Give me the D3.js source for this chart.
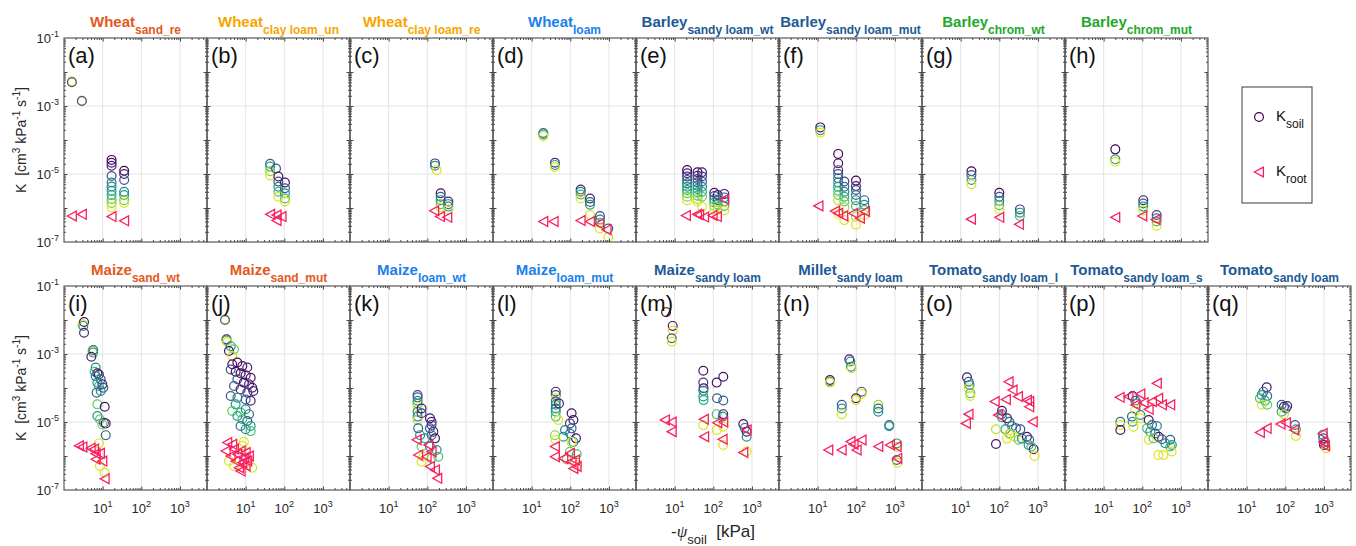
<!DOCTYPE html>
<html>
<head>
<meta charset="utf-8">
<script src="https://cdn.jsdelivr.net/npm/d3@7"></script>
<style>
  body { margin: 0; background: #fff; }
  svg { display: block; font-family: Arial, "Liberation Sans", Helvetica, sans-serif; }
  text { white-space: pre; }
</style>
</head>
<body>
<div id="chart"></div>
<script>
// 面板标题
const crops = ['Wheat', 'Wheat', 'Wheat', 'Wheat', 'Barley', 'Barley', 'Barley', 'Barley',
  'Maize', 'Maize', 'Maize', 'Maize', 'Maize', 'Millet', 'Tomato', 'Tomato', 'Tomato'];
const soilTypes = ['sand_re', 'clay loam_un', 'clay loam_re', 'loam', 'sandy loam_wt', 'sandy loam_mut',
  'chrom_wt', 'chrom_mut', 'sand_wt', 'sand_mut', 'loam_wt', 'loam_mut', 'sandy loam', 'sandy loam',
  'sandy loam_l', 'sandy loam_s', 'sandy loam'];
const panelLetters = 'abcdefghijklmnopq'.split('');

// 刻度
const xTickValues = [10, 100, 1000];
const xTickExp = ['1', '2', '3'];
const yTickValues = [1e-1, 1e-3, 1e-5, 1e-7];
const yTickExp = ['-1', '-3', '-5', '-7'];
const legendSubs = ['soil', 'root'];

// 数据: K_soil [psi kPa, K, 颜色位置0-1]; K_root [psi kPa, K]
const soilA = [[1.6, 5.3e-3, 0.95], [1.6, 5.0e-3, 0.25], [2.9, 1.45e-3, 0.95], [2.9, 1.4e-3, 0.25],
  [17, 2.6e-5, 0], [17, 2.15e-5, 0.05], [17, 1.75e-5, 0.1], [17, 8.7e-6, 0.25], [17, 5.6e-6, 0.4], [17, 4.3e-6, 0.45],
  [17, 3.2e-6, 0.5], [17, 2.4e-6, 0.6], [17, 1.8e-6, 0.7], [17, 1.4e-6, 0.8], [17, 1.05e-6, 0.95],
  [36, 1.25e-5, 0], [36, 1.0e-5, 0.1], [36, 6.7e-6, 0.25], [36, 3.0e-6, 0.45], [36, 2.4e-6, 0.55], [36, 1.7e-6, 0.75], [36, 1.4e-6, 0.95]];
const rootA = [[1.6, 5.8e-7], [2.9, 6.5e-7], [17, 5.6e-7], [36, 4.2e-7]];

const soilB = [[43, 2.0e-5, 0.3], [43, 1.65e-5, 0.6], [43, 1.2e-5, 0.8], [43, 9.0e-6, 0.95], [61, 1.45e-5, 0.25],
  [70, 8.4e-6, 0.05], [70, 6.0e-6, 0.25], [70, 4.2e-6, 0.45], [70, 3.0e-6, 0.7], [70, 2.15e-6, 0.95],
  [104, 5.6e-6, 0.05], [104, 3.8e-6, 0.25], [104, 2.7e-6, 0.5], [104, 1.9e-6, 0.7], [104, 1.55e-6, 0.95]];
const rootB = [[43, 6.5e-7], [63, 6.2e-7], [63, 4.3e-7], [85, 5.6e-7]];

const soilC = [[158, 2.05e-5, 0.15], [158, 1.75e-5, 0.5], [174, 1.3e-5, 0.95],
  [221, 2.7e-6, 0.05], [221, 2.15e-6, 0.3], [221, 1.7e-6, 0.5], [221, 1.3e-6, 0.7], [221, 1.05e-6, 0.95],
  [349, 1.55e-6, 0.1], [349, 1.3e-6, 0.35], [349, 1.1e-6, 0.55], [349, 9.1e-7, 0.95]];
const rootC = [[151, 8.3e-7], [213, 5.6e-7], [329, 5.3e-7]];

const soilD = [[20, 1.6e-4, 0.3], [20, 1.45e-4, 0.6], [20, 1.3e-4, 0.95], [40, 2.15e-5, 0.1], [40, 1.85e-5, 0.55], [40, 1.6e-5, 0.95],
  [185, 3.5e-6, 0.1], [185, 3.0e-6, 0.4], [185, 2.5e-6, 0.65], [185, 1.9e-6, 0.95],
  [323, 1.9e-6, 0.1], [323, 1.5e-6, 0.3], [323, 1.25e-6, 0.5], [323, 6.2e-7, 0.95],
  [585, 5.8e-7, 0.2], [585, 4.6e-7, 0.45], [585, 3.7e-7, 0.7], [585, 2.5e-7, 0.95], [960, 2.5e-7, 0.3], [960, 1.4e-7, 0.95]];
const rootD = [[20, 4.0e-7], [37, 4.0e-7], [185, 4.3e-7], [323, 4.0e-7], [560, 3.4e-7], [870, 2.3e-7]];

const soilE = [[21, 1.31e-5, 0], [21, 1.05e-5, 0.1], [21, 8.4e-6, 0.2], [21, 6.7e-6, 0.3], [21, 5.3e-6, 0.4],
  [21, 4.2e-6, 0.5], [21, 3.4e-6, 0.6], [21, 2.7e-6, 0.7], [21, 2.15e-6, 0.8], [21, 1.7e-6, 0.95],
  [39, 1.12e-5, 0], [39, 8.9e-6, 0.1], [39, 7.1e-6, 0.2], [39, 5.7e-6, 0.3], [39, 4.5e-6, 0.4],
  [39, 3.6e-6, 0.5], [39, 2.9e-6, 0.6], [39, 2.3e-6, 0.7], [39, 1.85e-6, 0.85], [39, 1.55e-6, 0.95],
  [51, 1.12e-5, 0.05], [51, 8.4e-6, 0.15], [51, 6.0e-6, 0.3], [51, 4.2e-6, 0.45], [51, 3.0e-6, 0.6], [51, 2.15e-6, 0.75], [51, 1.1e-6, 0.95],
  [106, 2.8e-6, 0.05], [106, 2.25e-6, 0.25], [106, 1.8e-6, 0.45], [106, 1.45e-6, 0.65], [106, 1.15e-6, 0.8], [106, 9.1e-7, 0.95],
  [130, 2.4e-6, 0.1], [130, 1.7e-6, 0.4], [130, 1.25e-6, 0.7], [130, 8.7e-7, 0.95],
  [192, 2.6e-6, 0.05], [192, 2.05e-6, 0.3], [192, 1.55e-6, 0.5], [192, 1.15e-6, 0.7], [192, 8.4e-7, 0.95]];
const rootE = [[19.6, 6.0e-7], [38, 6.5e-7], [43, 6.3e-7], [58, 5.4e-7], [96, 6.0e-7], [124, 5.6e-7], [192, 1.8e-6]];

const soilF = [[11.7, 2.35e-4, 0], [11.7, 1.95e-4, 0.5], [11.7, 1.65e-4, 0.95],
  [34, 3.9e-5, 0], [34, 2.06e-5, 0.05], [34, 1.3e-5, 0.15], [34, 1.0e-5, 0.25], [34, 7.5e-6, 0.35], [34, 5.6e-6, 0.45],
  [34, 4.2e-6, 0.55], [34, 3.2e-6, 0.65], [34, 2.4e-6, 0.75], [34, 1.7e-6, 0.9], [34, 6.7e-7, 1],
  [49, 6.0e-6, 0.2], [49, 4.2e-6, 0.35], [49, 3.0e-6, 0.5], [49, 2.15e-6, 0.65], [49, 1.55e-6, 0.75], [49, 1.05e-6, 0.85], [49, 4.4e-7, 0.95],
  [98, 6.4e-6, 0], [98, 4.4e-6, 0.1], [98, 3.4e-6, 0.2], [98, 2.4e-6, 0.35], [98, 1.7e-6, 0.5], [98, 1.15e-6, 0.7], [98, 5.6e-7, 0.85], [98, 3.2e-7, 0.95],
  [161, 1.7e-6, 0.3], [161, 1.25e-6, 0.5], [161, 8.7e-7, 0.7], [161, 6.2e-7, 0.95]];
const rootF = [[10.5, 1.15e-6], [28, 8.1e-7], [34, 7.0e-7], [46, 5.8e-7], [84, 7.0e-7], [124, 5.0e-7], [168, 7.9e-7]];

const soilG = [[19, 1.2e-5, 0], [19, 9.3e-6, 0.25], [19, 6.7e-6, 0.55], [19, 5.0e-6, 0.95],
  [100, 2.8e-6, 0], [100, 2.15e-6, 0.25], [100, 1.6e-6, 0.45], [100, 1.2e-6, 0.7], [100, 9.1e-7, 0.95],
  [340, 9.1e-7, 0.2], [340, 7.3e-7, 0.45], [340, 5.8e-7, 0.7]];
const rootG = [[18.5, 4.7e-7], [100, 5.3e-7], [323, 3.3e-7]];

const soilH = [[20, 5.3e-5, 0], [20, 2.7e-5, 0.5], [20, 2.3e-5, 0.95],
  [106, 1.7e-6, 0.05], [106, 1.35e-6, 0.35], [106, 1.1e-6, 0.6], [106, 8.4e-7, 0.95],
  [235, 6.2e-7, 0.2], [235, 5.0e-7, 0.45], [235, 4.0e-7, 0.7], [235, 3.0e-7, 0.95]];
const rootH = [[20, 5.3e-7], [100, 5.8e-7], [221, 4.6e-7]];

const soilI = [[2.98, 7.5e-3, 0.95], [3.3, 8.7e-3, 0.05], [3.15, 6.7e-3, 0.5], [3.3, 4.2e-3, 0.1],
  [5.4, 1.22e-3, 0.95], [5.7, 1.31e-3, 0.3], [5.7, 1.1e-3, 0.6], [5.1, 8.3e-4, 0.1],
  [6.6, 4.0e-4, 0.5], [6.2, 3.0e-4, 0.7], [7.3, 2.7e-4, 0.05], [8.0, 2.5e-4, 0.1], [6.6, 2.24e-4, 0.45],
  [8.9, 1.8e-4, 0.3], [7.3, 1.44e-4, 0.5], [9.8, 1.28e-4, 0.1], [8.0, 1.15e-4, 0.65], [10.4, 1.02e-4, 0.3],
  [8.9, 8.2e-5, 0.45], [7.0, 7.3e-5, 0.3], [7.3, 3.3e-5, 0.75], [11.3, 2.8e-5, 0.05], [7.3, 1.5e-5, 0.5],
  [8.5, 1.2e-5, 0.75], [10.8, 9.5e-6, 0.3], [12, 9.1e-6, 0.05], [9.8, 8.5e-6, 0.8], [12, 4.1e-6, 0.3],
  [8.0, 2.35e-6, 0.95], [8.5, 5.1e-7, 0.95], [11.3, 3.2e-7, 0.95]];
const rootI = [[2.44, 2.0e-6], [3.0, 1.85e-6], [4.9, 1.7e-6], [6.0, 1.6e-6], [6.6, 1.17e-6], [8.5, 1.2e-6],
  [6.6, 8.0e-7], [9.8, 7.1e-7], [11.3, 2.15e-7]];

const soilJ = [[2.92, 1.05e-2, 0.95], [2.92, 1.0e-2, 0.3], [3.2, 2.7e-3, 0.05], [3.2, 2.5e-3, 0.7], [3.35, 2.25e-3, 0.95],
  [4.1, 1.7e-3, 0.5], [5.0, 1.37e-3, 0.75], [3.7, 1.23e-3, 0.05], [4.5, 8.7e-4, 0.95],
  [4.5, 5.0e-4, 0.05], [6.1, 5.6e-4, 0], [8.2, 4.4e-4, 0.05], [11, 4.0e-4, 0.1], [4.1, 3.5e-4, 0.25],
  [5.5, 3.0e-4, 0.05], [7.4, 2.7e-4, 0], [10, 2.36e-4, 0.1], [13.5, 2.0e-4, 0.05], [6.1, 1.8e-4, 0.3],
  [9.0, 1.44e-4, 0], [12.2, 1.28e-4, 0.15], [14.8, 1.02e-4, 0.05], [5.0, 1.15e-4, 0.3], [7.4, 9.1e-5, 0.1],
  [11, 7.3e-5, 0.2], [15.8, 8.2e-5, 0.1], [4.1, 5.8e-5, 0.3], [6.1, 5.2e-5, 0.45], [10, 4.6e-5, 0.3],
  [13.5, 4.2e-5, 0.1], [5.5, 3.3e-5, 0.5], [4.5, 2.1e-5, 0.75], [7.4, 1.9e-5, 0.7], [10, 2.36e-5, 0.5],
  [12.2, 1.7e-5, 0.35], [6.1, 1.5e-5, 0.55], [8.2, 1.2e-5, 0.7], [11, 1.07e-5, 0.3], [13.5, 7.6e-6, 0.55],
  [7.4, 7.6e-6, 0.35], [10, 6.1e-6, 0.5], [13.5, 5.4e-6, 0.7], [9.0, 2.6e-6, 0.95], [8.2, 2.0e-6, 0.95],
  [3.7, 7.1e-7, 0.95], [14.8, 4.5e-7, 0.95], [5.0, 5.1e-7, 0.95]];
const rootJ = [[3.35, 2.5e-6], [4.5, 2.2e-6], [3.05, 1.4e-6], [5.0, 1.6e-6], [7.4, 1.4e-6], [10, 1.26e-6],
  [4.1, 1.0e-6], [6.1, 1.12e-6], [9.0, 8.9e-7], [12.2, 1.0e-6], [5.5, 7.1e-7], [8.2, 6.4e-7], [11, 7.1e-7],
  [6.7, 4.5e-7], [10, 5.1e-7], [7.4, 3.6e-7]];

const soilK = [[56, 6.2e-5, 0.2], [56, 5.3e-5, 0.3], [56, 4.2e-5, 0.45], [56, 3.5e-5, 0.6], [56, 2.8e-5, 0.95],
  [56, 2.0e-5, 0.55], [56, 1.44e-5, 0.45], [56, 1.15e-5, 0.9], [71, 2.5e-5, 0.05], [71, 1.8e-5, 0.2],
  [117, 1.28e-5, 0.05], [129, 1.02e-5, 0.1], [129, 8.2e-6, 0.2], [117, 6.5e-6, 0.3], [143, 5.2e-6, 0.1],
  [129, 4.1e-6, 0.4], [158, 3.3e-6, 0.05], [58, 6.5e-6, 0.3], [65, 4.1e-6, 0.45], [87, 3.3e-6, 0.5],
  [71, 1.9e-6, 0.75], [117, 1.9e-6, 0.5], [174, 1.5e-6, 0.55], [79, 9.5e-7, 0.95], [192, 9.5e-7, 0.7],
  [71, 6.8e-7, 0.95], [129, 8.5e-7, 0.75]];
const rootK = [[53, 3.0e-6], [58, 1.07e-6], [96, 9.5e-7], [106, 2.1e-6], [129, 1.34e-6], [117, 4.9e-7], [158, 3.9e-7], [181, 2.2e-7]];

const soilL = [[42, 7.8e-5, 0.1], [42, 6.2e-5, 0.25], [42, 5.0e-5, 0.95], [42, 4.0e-5, 0.4], [42, 3.2e-5, 0.5],
  [42, 2.5e-5, 0.35], [42, 2.0e-5, 0.55], [42, 1.44e-5, 0.7], [49, 1.15e-5, 0.95], [51, 3.5e-5, 0.1],
  [108, 1.8e-5, 0.05], [120, 1.15e-5, 0.05], [98, 9.1e-6, 0.15], [108, 6.5e-6, 0.3], [98, 4.6e-6, 0.35],
  [140, 3.3e-6, 0.05], [120, 2.6e-6, 0.5], [66, 3.7e-6, 0.5], [40, 4.1e-6, 0.8], [42, 3.0e-6, 0.95],
  [108, 2.6e-6, 0.95], [98, 1.34e-6, 0.75], [146, 1.12e-6, 0.7], [81, 7.9e-7, 0.8], [150, 5.4e-7, 0.95], [73, 5.8e-6, 0.4]];
const rootL = [[40, 1.9e-6], [40, 9.5e-7], [66, 8.5e-7], [98, 1.2e-6], [108, 6.8e-7], [120, 4.3e-7], [146, 4.9e-7], [132, 7.6e-7]];

const soilM = [[6.0, 1.76e-2, 0.95], [6.0, 1.7e-2, 0.05], [8.9, 6.7e-3, 0.05], [8.9, 4.9e-3, 0.95], [8.4, 2.9e-3, 0.3], [8.4, 2.3e-3, 0.95],
  [55, 3.2e-4, 0.05], [55, 1.45e-4, 0.15], [56, 9.8e-5, 0.05], [55, 8.3e-5, 0.45], [55, 5.6e-5, 0.5], [56, 4.4e-5, 0.6],
  [122, 1.44e-4, 0.05], [181, 2.15e-4, 0.05], [125, 5.0e-5, 0.3], [181, 4.3e-5, 0.3], [122, 1.7e-5, 0.7],
  [181, 1.7e-5, 0.05], [175, 1.44e-5, 0.45], [55, 8.1e-6, 0.95], [122, 5.8e-6, 0.95], [181, 7.3e-6, 0.95], [181, 2.1e-6, 0.95],
  [597, 8.7e-6, 0.05], [650, 6.7e-6, 0.3], [728, 5.2e-6, 0.05], [728, 3.7e-6, 0.5], [728, 1.35e-6, 0.95]];
const rootM = [[5.6, 1.15e-5], [8.4, 1.0e-5], [8.4, 5.2e-6], [57, 1.2e-5], [58, 3.7e-6], [127, 9.5e-6], [181, 1.0e-5],
  [174, 3.1e-6], [728, 5.8e-6], [597, 1.26e-6]];

const soilN = [[20.8, 1.72e-4, 0.05], [20.8, 1.55e-4, 0.55], [20.8, 1.44e-4, 0.95],
  [66, 7.0e-4, 0.05], [70, 6.0e-4, 0.5], [73, 4.2e-4, 0.45], [76, 3.8e-4, 0.95],
  [137, 7.8e-5, 0.3], [137, 6.7e-5, 0.95], [98, 5.0e-5, 0.05], [98, 4.4e-5, 0.95],
  [42, 3.2e-5, 0.3], [42, 2.5e-5, 0.5], [42, 1.7e-5, 0.95], [371, 3.2e-5, 0.85], [371, 2.5e-5, 0.3], [371, 2.0e-5, 0.5],
  [713, 8.1e-6, 0.35], [705, 7.5e-6, 0.55], [1105, 2.35e-6, 0.5], [1150, 1.85e-6, 0.95], [1105, 7.6e-7, 0.3], [1150, 6.3e-7, 0.95]];
const rootN = [[18.9, 1.5e-6], [41.8, 1.5e-6], [71, 2.65e-6], [85, 2.2e-6], [102, 1.5e-6], [137, 2.95e-6],
  [371, 1.9e-6], [742, 2.1e-6], [1105, 1.9e-6], [1150, 8.5e-7]];

const soilO = [[14.6, 2.06e-4, 0.05], [16.1, 1.53e-4, 0.3], [17, 1.22e-4, 0.5], [16.1, 9.8e-5, 0.95], [17.8, 7.0e-5, 0.7], [17.8, 5.8e-5, 0.95],
  [117, 2.15e-5, 0.05], [113, 1.7e-5, 0.3], [117, 1.37e-5, 0.6], [158, 1.28e-5, 0.05], [181, 1.02e-5, 0.3],
  [212, 7.6e-6, 0.5], [270, 6.5e-6, 0.3], [350, 6.1e-6, 0.25], [143, 6.1e-6, 0.5], [192, 4.6e-6, 0.7],
  [249, 3.7e-6, 0.95], [316, 3.0e-6, 0.75], [158, 3.25e-6, 0.95], [383, 3.25e-6, 0.5], [518, 3.7e-6, 0.05],
  [594, 3.0e-6, 0.25], [572, 2.1e-6, 0.5], [773, 1.57e-6, 0.05], [674, 1.9e-6, 0.7], [818, 1.0e-6, 0.95],
  [82, 6.1e-6, 0.9], [82, 2.25e-6, 0.05], [181, 4.4e-6, 0.95]];
const rootO = [[174, 1.53e-4], [220, 8.7e-5], [76, 4.0e-5], [148, 4.6e-5], [304, 5.6e-5], [518, 4.4e-5], [594, 4.0e-5],
  [594, 2.8e-5], [733, 1.02e-5], [93, 1.6e-5], [16, 1.7e-5], [13.7, 9.1e-6]];

const soilP = [[27, 1.02e-5, 0.35], [27, 8.2e-6, 0.95], [27, 5.8e-6, 0.05], [54, 1.44e-5, 0.3], [56, 1.02e-5, 0.55], [59, 7.3e-6, 0.95],
  [56, 5.8e-5, 0.05], [66, 4.2e-5, 0.3], [73, 3.5e-5, 0.6], [66, 2.25e-5, 0.95], [89, 1.6e-5, 0.5], [89, 1.28e-5, 0.95],
  [146, 1.15e-5, 0.05], [178, 8.2e-6, 0.3], [238, 7.6e-6, 0.45], [133, 6.5e-6, 0.7], [161, 5.2e-6, 0.5],
  [216, 4.6e-6, 0.3], [265, 3.7e-6, 0.05], [146, 3.0e-6, 0.95], [196, 3.3e-6, 0.75], [322, 3.1e-6, 0.3],
  [393, 2.36e-6, 0.5], [528, 3.0e-6, 0.3], [581, 2.1e-6, 0.55], [528, 1.9e-6, 0.7],
  [260, 1.07e-6, 0.95], [350, 1.07e-6, 0.95], [574, 1.35e-6, 0.95]];
const rootP = [[26, 5.3e-5], [44, 5.6e-5], [89, 6.7e-5], [66, 3.2e-5], [108, 3.7e-5], [178, 4.0e-5], [238, 1.37e-4],
  [258, 5.0e-5], [322, 3.2e-5], [528, 3.2e-5], [146, 2.36e-5]];

const soilQ = [[33, 1.05e-4, 0.05], [27, 7.8e-5, 0.3], [24.5, 6.2e-5, 0.5], [22, 5.0e-5, 0.7], [34, 5.8e-5, 0.3],
  [30, 4.2e-5, 0.6], [24.5, 3.2e-5, 0.95], [34, 3.2e-5, 0.75], [80, 3.2e-5, 0.3], [92, 2.8e-5, 0.05],
  [112, 2.95e-5, 0.1], [104, 2.5e-5, 0.3], [80, 2.0e-5, 0.6], [92, 1.7e-5, 0.95],
  [178, 8.2e-6, 0.3], [188, 6.1e-6, 0.6], [188, 3.9e-6, 0.95],
  [930, 4.2e-6, 0.6], [960, 3.3e-6, 0.3], [1060, 2.6e-6, 0.5], [1000, 2.1e-6, 0.05], [1130, 1.7e-6, 0.95]];
const rootQ = [[22, 4.9e-6], [33, 6.5e-6], [75, 8.7e-6], [104, 9.5e-6], [170, 5.8e-6], [930, 4.6e-6], [960, 2.6e-6], [1060, 2.0e-6]];

const soilData = [soilA, soilB, soilC, soilD, soilE, soilF, soilG, soilH, soilI, soilJ, soilK, soilL, soilM, soilN, soilO, soilP, soilQ];
const rootData = [rootA, rootB, rootC, rootD, rootE, rootF, rootG, rootH, rootI, rootJ, rootK, rootL, rootM, rootN, rootO, rootP, rootQ];

// 样式与布局
const orange = '#E4581D', amber = '#F7A600', sky = '#1A80EC', navy = '#1D5A94', green = '#21A82B';
const titleColors = [orange, amber, amber, sky, navy, navy, green, green,
  orange, orange, sky, sky, navy, navy, navy, navy, navy];
const rootColor = '#F8215E';
const frameColor = '#4a4a4a';
const gridColor = '#e4e4e4';

const width = 1356, height = 546;
const panelW = 143, panelH = 204;
const leftX = 64;
const rowTop = [38, 286];
const psiDomain = [1, 5000];
const kDomain = [1e-7, 1e-1];

const svg = d3.select('#chart').append('svg')
  .attr('width', width)
  .attr('height', height);

const triangle = 'M-4.6,0L4.4,-4.9L4.4,4.9Z';

soilData.forEach((soil, i) => {
  const row = i < 8 ? 0 : 1;
  const col = row === 0 ? i : i - 8;
  const x0 = leftX + col * panelW;
  const y0 = rowTop[row];

  const x = d3.scaleLog().domain(psiDomain).range([x0, x0 + panelW]);
  const y = d3.scaleLog().domain(kDomain).range([y0 + panelH, y0]);

  const g = svg.append('g');

  // 网格
  g.selectAll('.gx').data(xTickValues).join('line')
    .attr('x1', d => x(d)).attr('x2', d => x(d))
    .attr('y1', y0).attr('y2', y0 + panelH)
    .attr('stroke', gridColor).attr('stroke-width', 1);
  g.selectAll('.gy').data([1e-3, 1e-5]).join('line')
    .attr('x1', x0).attr('x2', x0 + panelW)
    .attr('y1', d => y(d)).attr('y2', d => y(d))
    .attr('stroke', gridColor).attr('stroke-width', 1);

  // K_soil 圆点
  g.selectAll('circle').data(soil).join('circle')
    .attr('cx', d => x(d[0]))
    .attr('cy', d => y(d[1]))
    .attr('r', 4.4)
    .attr('fill', 'none')
    .attr('stroke', d => d3.interpolateViridis(d[2]))
    .attr('stroke-width', 1.2);

  // K_root 三角
  g.selectAll('path.root').data(rootData[i]).join('path')
    .attr('class', 'root')
    .attr('d', triangle)
    .attr('transform', d => `translate(${x(d[0])},${y(d[1])})`)
    .attr('fill', 'none')
    .attr('stroke', rootColor)
    .attr('stroke-width', 1.3);

  // 坐标轴 (刻度向内)
  const isMajor = v => Math.abs(Math.log10(v) - Math.round(Math.log10(v))) < 1e-6;
  const xt = x.ticks().filter(v => v > psiDomain[0] && v < psiDomain[1]);
  const yt = y.ticks().filter(v => v > kDomain[0] * 1.0001 && v < kDomain[1] * 0.9999);
  const axes = [
    [d3.axisBottom(x).tickValues(xt), `translate(0,${y0 + panelH})`],
    [d3.axisTop(x).tickValues(xt), `translate(0,${y0})`],
    [d3.axisLeft(y).tickValues(yt), `translate(${x0},0)`],
    [d3.axisRight(y).tickValues(yt), `translate(${x0 + panelW},0)`]
  ];
  axes.forEach(([ax, tr], k) => {
    const a = g.append('g').attr('transform', tr)
      .call(ax.tickSizeOuter(0).tickFormat(''));
    a.select('.domain').remove();
    a.selectAll('.tick line')
      .attr('stroke', frameColor)
      .each(function (d) {
        const len = isMajor(d) ? 3.5 : 2;
        const line = d3.select(this);
        if (k === 0) line.attr('y2', -len);
        if (k === 1) line.attr('y2', len);
        if (k === 2) line.attr('x2', len);
        if (k === 3) line.attr('x2', -len);
      });
  });

  // 边框
  g.append('rect')
    .attr('x', x0).attr('y', y0)
    .attr('width', panelW).attr('height', panelH)
    .attr('fill', 'none')
    .attr('stroke', frameColor)
    .attr('stroke-width', 1.1);

  // 面板编号
  g.append('text')
    .attr('x', x0 + 4)
    .attr('y', y0 + 25)
    .style('font-size', '22px')
    .attr('fill', '#111')
    .text(`(${panelLetters[i]})`);

  // 标题
  const title = g.append('text')
    .attr('x', x0 + panelW / 2)
    .attr('y', y0 - 11)
    .attr('text-anchor', 'middle')
    .attr('fill', titleColors[i])
    .style('font-weight', 'bold');
  title.append('tspan').style('font-size', '15px').text(crops[i]);
  title.append('tspan').attr('dy', 7).style('font-size', '12px').text(soilTypes[i]);

  // x 刻度标签 (仅下排)
  if (row === 1) {
    xTickValues.forEach((v, k) => {
      const t = g.append('text')
        .attr('x', x(v))
        .attr('y', y0 + panelH + 23)
        .attr('text-anchor', 'middle')
        .attr('fill', '#262626')
        .style('font-size', '13px');
      t.append('tspan').text('10');
      t.append('tspan').attr('dy', -6).style('font-size', '9px').text(xTickExp[k]);
    });
  }

  // y 刻度标签 (仅左列)
  if (col === 0) {
    yTickValues.forEach((v, k) => {
      const t = g.append('text')
        .attr('x', x0 - 5)
        .attr('y', y(v) + 5)
        .attr('text-anchor', 'end')
        .attr('fill', '#262626')
        .style('font-size', '13px');
      t.append('tspan').text('10');
      t.append('tspan').attr('dy', -6).style('font-size', '9px').text(yTickExp[k]);
    });

    // y 轴标题
    const yl = svg.append('text')
      .attr('transform', `translate(26,${y0 + panelH / 2}) rotate(-90)`)
      .attr('text-anchor', 'middle')
      .attr('fill', '#262626')
      .style('font-size', '14px');
    yl.append('tspan').text('K  [cm');
    yl.append('tspan').attr('dy', -6).style('font-size', '10px').text('3');
    yl.append('tspan').attr('dy', 6).text(' kPa');
    yl.append('tspan').attr('dy', -6).style('font-size', '10px').text('-1');
    yl.append('tspan').attr('dy', 6).text(' s');
    yl.append('tspan').attr('dy', -6).style('font-size', '10px').text('-1');
    yl.append('tspan').attr('dy', 6).text(']');
  }
});

// x 轴标题
const xl = svg.append('text')
  .attr('x', 713)
  .attr('y', 537)
  .attr('text-anchor', 'middle')
  .attr('fill', '#262626')
  .style('font-size', '17px');
xl.append('tspan').text('-');
xl.append('tspan').style('font-family', '"Liberation Serif", "DejaVu Serif", serif').style('font-style', 'italic').text('ψ');
xl.append('tspan').attr('dy', 7).style('font-size', '13px').text('soil');
xl.append('tspan').attr('dy', -7).text('  [kPa]');

// 图例
const legend = svg.append('g');
legend.append('rect')
  .attr('x', 1242).attr('y', 87)
  .attr('width', 70).attr('height', 116)
  .attr('fill', '#fff')
  .attr('stroke', '#3a3a3a')
  .attr('stroke-width', 1);
legend.append('circle')
  .attr('cx', 1259).attr('cy', 117).attr('r', 4.4)
  .attr('fill', 'none')
  .attr('stroke', d3.interpolateViridis(0))
  .attr('stroke-width', 1.2);
legend.append('path')
  .attr('d', triangle)
  .attr('transform', 'translate(1259,172)')
  .attr('fill', 'none')
  .attr('stroke', rootColor)
  .attr('stroke-width', 1.3);
legendSubs.forEach((s, k) => {
  const t = legend.append('text')
    .attr('x', 1276)
    .attr('y', k === 0 ? 121 : 176)
    .attr('fill', '#111')
    .style('font-size', '15px');
  t.append('tspan').text('K');
  t.append('tspan').attr('dy', 7).style('font-size', '12px').text(s);
});
</script>
</body>
</html>
